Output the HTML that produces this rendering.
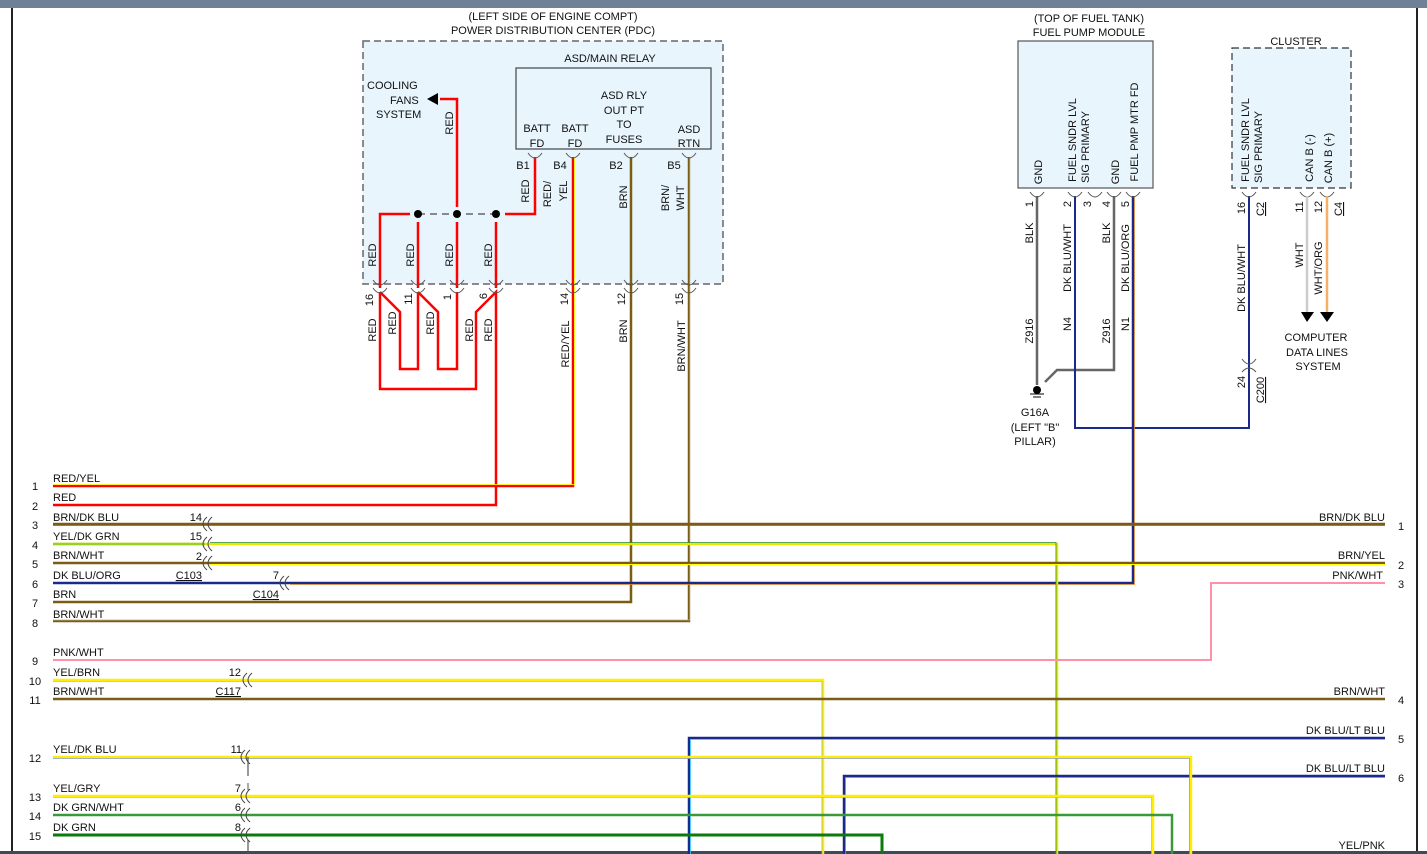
<!DOCTYPE html>
<html><head><meta charset="utf-8"><style>
html,body{margin:0;padding:0;background:#fff;width:1427px;height:854px;overflow:hidden}
svg{display:block}
text{font-family:"Liberation Sans",sans-serif;font-size:11px;fill:#111}
</style></head><body>
<svg width="1427" height="854" viewBox="0 0 1427 854">
<defs>
<g id="cb"><path d="M-7,-4 Q0,6 7,-4" fill="none" stroke="#555" stroke-width="1"/></g>
<g id="cl"><path d="M4,-7 Q-4,0 4,7 M9,-7 Q1,0 9,7" fill="none" stroke="#444" stroke-width="1"/></g>
</defs>
<rect x="0" y="0" width="1427" height="8" fill="#6f8195"/>
<line x1="12" y1="8" x2="12" y2="854" stroke="#222" stroke-width="2"/>
<line x1="1417" y1="8" x2="1417" y2="854" stroke="#222" stroke-width="2"/>
<rect x="0" y="851" width="1427" height="3" fill="#3d4a57"/>

<!-- PDC -->
<text x="553" y="20" text-anchor="middle">(LEFT SIDE OF ENGINE COMPT)</text>
<text x="553" y="34" text-anchor="middle">POWER DISTRIBUTION CENTER (PDC)</text>
<rect x="363" y="41" width="360" height="243" fill="#e8f5fd" stroke="#666" stroke-width="1.5" stroke-dasharray="7,4"/>
<text x="610" y="62" text-anchor="middle">ASD/MAIN RELAY</text>
<rect x="516" y="68" width="195" height="81" fill="#e8f5fd" stroke="#444" stroke-width="1.2"/>
<text x="624" y="99" text-anchor="middle">ASD RLY</text>
<text x="624" y="114" text-anchor="middle">OUT PT</text>
<text x="624" y="128" text-anchor="middle">TO</text>
<text x="624" y="143" text-anchor="middle">FUSES</text>
<text x="537" y="132" text-anchor="middle">BATT</text><text x="537" y="147" text-anchor="middle">FD</text>
<text x="575" y="132" text-anchor="middle">BATT</text><text x="575" y="147" text-anchor="middle">FD</text>
<text x="689" y="133" text-anchor="middle">ASD</text><text x="689" y="147" text-anchor="middle">RTN</text>
<text x="367" y="89">COOLING</text><text x="390" y="104">FANS</text><text x="376" y="118">SYSTEM</text>
<text x="523" y="169" text-anchor="middle">B1</text><text x="560" y="169" text-anchor="middle">B4</text>
<text x="616" y="169" text-anchor="middle">B2</text><text x="674" y="169" text-anchor="middle">B5</text>
<g fill="none" stroke-width="2.5">
<path d="M535,157 V214 H505" stroke="#f00"/>
<path d="M410,214 H380 V288" stroke="#f00"/>
<path d="M418,222 V288 M457,222 V288 M496,222 V288" stroke="#f00"/>
<path d="M457,207 V99 H440" stroke="#f00"/>
<path d="M380,292 L400,312 V369 H418 V292 M418,292 L438,312 V369 H457 V292 M380,292 V389 H476 V312 L496,292 V505 H53" stroke="#f00"/>
</g>
<line x1="418" y1="214" x2="496" y2="214" stroke="#666" stroke-width="1.5" stroke-dasharray="7,5"/>
<circle cx="418" cy="214" r="4" fill="#000"/><circle cx="457" cy="214" r="4" fill="#000"/><circle cx="496" cy="214" r="4" fill="#000"/>
<path d="M427,99 L438,93 V105 Z" fill="#000"/>
<!-- red/yel -->
<path d="M573,157 V486 H53" fill="none" stroke="#f00" stroke-width="2.5"/>
<path d="M574.5,157 V484.5 H53" fill="none" stroke="#ff0" stroke-width="0.8"/>
<path d="M631,157 V602 H53" fill="none" stroke="#7a5c12" stroke-width="2.5"/>
<path d="M689,157 V621 H53" fill="none" stroke="#7a5c12" stroke-width="2.5"/>
<path d="M690,157 V620 H53" fill="none" stroke="#ddd" stroke-width="0.6"/>
<g><use href="#cb" x="535" y="157"/><use href="#cb" x="573" y="157"/><use href="#cb" x="631" y="157"/><use href="#cb" x="689" y="157"/>
<use href="#cb" x="380" y="284"/><use href="#cb" x="418" y="284"/><use href="#cb" x="457" y="284"/><use href="#cb" x="496" y="284"/><use href="#cb" x="573" y="284"/><use href="#cb" x="631" y="284"/><use href="#cb" x="689" y="284"/>
<use href="#cb" x="380" y="292"/><use href="#cb" x="418" y="292"/><use href="#cb" x="457" y="292"/><use href="#cb" x="496" y="292"/><use href="#cb" x="573" y="292"/><use href="#cb" x="631" y="292"/><use href="#cb" x="689" y="292"/></g>
<g>
<text transform="translate(453,123) rotate(-90)" text-anchor="middle">RED</text>
<text transform="translate(529,191) rotate(-90)" text-anchor="middle">RED</text>
<text transform="translate(551,194) rotate(-90)" text-anchor="middle">RED/</text>
<text transform="translate(567,191) rotate(-90)" text-anchor="middle">YEL</text>
<text transform="translate(627,197) rotate(-90)" text-anchor="middle">BRN</text>
<text transform="translate(669,198) rotate(-90)" text-anchor="middle">BRN/</text>
<text transform="translate(684,198) rotate(-90)" text-anchor="middle">WHT</text>
<text transform="translate(376,255) rotate(-90)" text-anchor="middle">RED</text>
<text transform="translate(414,255) rotate(-90)" text-anchor="middle">RED</text>
<text transform="translate(453,255) rotate(-90)" text-anchor="middle">RED</text>
<text transform="translate(492,255) rotate(-90)" text-anchor="middle">RED</text>
<text transform="translate(373,300) rotate(-90)" text-anchor="middle">16</text>
<text transform="translate(412,299) rotate(-90)" text-anchor="middle">11</text>
<text transform="translate(451,297) rotate(-90)" text-anchor="middle">1</text>
<text transform="translate(487,296) rotate(-90)" text-anchor="middle">6</text>
<text transform="translate(568,299) rotate(-90)" text-anchor="middle">14</text>
<text transform="translate(625,299) rotate(-90)" text-anchor="middle">12</text>
<text transform="translate(683,299) rotate(-90)" text-anchor="middle">15</text>
<text transform="translate(376,330) rotate(-90)" text-anchor="middle">RED</text>
<text transform="translate(396,323) rotate(-90)" text-anchor="middle">RED</text>
<text transform="translate(434,323) rotate(-90)" text-anchor="middle">RED</text>
<text transform="translate(473,330) rotate(-90)" text-anchor="middle">RED</text>
<text transform="translate(492,330) rotate(-90)" text-anchor="middle">RED</text>
<text transform="translate(569,344) rotate(-90)" text-anchor="middle">RED/YEL</text>
<text transform="translate(627,331) rotate(-90)" text-anchor="middle">BRN</text>
<text transform="translate(685,346) rotate(-90)" text-anchor="middle">BRN/WHT</text>
</g>

<!-- Fuel pump module -->
<text x="1089" y="22" text-anchor="middle">(TOP OF FUEL TANK)</text>
<text x="1089" y="36" text-anchor="middle">FUEL PUMP MODULE</text>
<rect x="1018" y="41" width="135" height="147" fill="#e8f5fd" stroke="#555" stroke-width="1.2"/>
<text transform="translate(1042,172) rotate(-90)" text-anchor="middle">GND</text>
<text transform="translate(1076,140) rotate(-90)" text-anchor="middle">FUEL SNDR LVL</text>
<text transform="translate(1089,147) rotate(-90)" text-anchor="middle">SIG PRIMARY</text>
<text transform="translate(1119,172) rotate(-90)" text-anchor="middle">GND</text>
<text transform="translate(1138,132) rotate(-90)" text-anchor="middle">FUEL PMP MTR FD</text>
<path d="M1037,196 V385" stroke="#666" stroke-width="2.5" fill="none"/>
<path d="M1114,196 V370 H1057 L1045,382" stroke="#666" stroke-width="2.5" fill="none"/>
<circle cx="1037" cy="390" r="4" fill="#000"/>
<path d="M1030,394 H1044 M1033,397 H1041" stroke="#000" stroke-width="1"/>
<text x="1035" y="416" text-anchor="middle">G16A</text>
<text x="1035" y="431" text-anchor="middle">(LEFT "B"</text>
<text x="1035" y="445" text-anchor="middle">PILLAR)</text>
<path d="M1075,196 V428 H1249 V196" stroke="#1a2a8a" stroke-width="2" fill="none"/>
<path d="M1133,196 V583 H53" stroke="#1a2a8a" stroke-width="2.5" fill="none"/>
<path d="M1134.5,196 V584.5 H290" stroke="#e08a30" stroke-width="0.8" fill="none"/>
<g><use href="#cb" x="1037" y="196"/><use href="#cb" x="1075" y="196"/><use href="#cb" x="1095" y="196"/><use href="#cb" x="1114" y="196"/><use href="#cb" x="1133" y="196"/><use href="#cb" x="1249" y="196"/><use href="#cb" x="1307" y="196"/><use href="#cb" x="1327" y="196"/>
<use href="#cb" x="1249" y="363"/><path d="M1242,372 Q1249,364 1256,372" fill="none" stroke="#555"/></g>
<g>
<text transform="translate(1033,204) rotate(-90)" text-anchor="middle">1</text>
<text transform="translate(1071,204) rotate(-90)" text-anchor="middle">2</text>
<text transform="translate(1091,204) rotate(-90)" text-anchor="middle">3</text>
<text transform="translate(1110,204) rotate(-90)" text-anchor="middle">4</text>
<text transform="translate(1129,204) rotate(-90)" text-anchor="middle">5</text>
<text transform="translate(1033,233) rotate(-90)" text-anchor="middle">BLK</text>
<text transform="translate(1071,258) rotate(-90)" text-anchor="middle">DK BLU/WHT</text>
<text transform="translate(1110,233) rotate(-90)" text-anchor="middle">BLK</text>
<text transform="translate(1129,258) rotate(-90)" text-anchor="middle">DK BLU/ORG</text>
<text transform="translate(1033,331) rotate(-90)" text-anchor="middle">Z916</text>
<text transform="translate(1071,324) rotate(-90)" text-anchor="middle">N4</text>
<text transform="translate(1110,331) rotate(-90)" text-anchor="middle">Z916</text>
<text transform="translate(1129,324) rotate(-90)" text-anchor="middle">N1</text>
</g>

<!-- Cluster -->
<text x="1296" y="45" text-anchor="middle">CLUSTER</text>
<rect x="1232" y="48" width="119" height="140" fill="#e8f5fd" stroke="#333" stroke-width="1.2" stroke-dasharray="7,4"/>
<text transform="translate(1249,140) rotate(-90)" text-anchor="middle">FUEL SNDR LVL</text>
<text transform="translate(1262,147) rotate(-90)" text-anchor="middle">SIG PRIMARY</text>
<text transform="translate(1313,158) rotate(-90)" text-anchor="middle">CAN B (-)</text>
<text transform="translate(1332,158) rotate(-90)" text-anchor="middle">CAN B (+)</text>
<path d="M1307,196 V312" stroke="#ccc" stroke-width="2.5"/>
<path d="M1327,196 V312" stroke="#f5b066" stroke-width="2.5"/>
<path d="M1301,312 H1314 L1307,322 Z M1320,312 H1334 L1327,322 Z" fill="#000"/>
<text x="1316" y="341" text-anchor="middle">COMPUTER</text>
<text x="1317" y="356" text-anchor="middle">DATA LINES</text>
<text x="1318" y="370" text-anchor="middle">SYSTEM</text>
<g>
<text transform="translate(1245,208) rotate(-90)" text-anchor="middle">16</text>
<text transform="translate(1264,209) rotate(-90)" text-anchor="middle" text-decoration="underline">C2</text>
<text transform="translate(1303,207) rotate(-90)" text-anchor="middle">11</text>
<text transform="translate(1322,207) rotate(-90)" text-anchor="middle">12</text>
<text transform="translate(1342,209) rotate(-90)" text-anchor="middle" text-decoration="underline">C4</text>
<text transform="translate(1245,278) rotate(-90)" text-anchor="middle">DK BLU/WHT</text>
<text transform="translate(1303,255) rotate(-90)" text-anchor="middle">WHT</text>
<text transform="translate(1322,268) rotate(-90)" text-anchor="middle">WHT/ORG</text>
<text transform="translate(1245,382) rotate(-90)" text-anchor="middle">24</text>
<text transform="translate(1264,390) rotate(-90)" text-anchor="middle" text-decoration="underline">C200</text>
</g>

<!-- horizontal wires -->
<g fill="none">
<path d="M53,524 H1385" stroke="#7a5c12" stroke-width="2.5"/><path d="M53,525.5 H1385" stroke="#4060c0" stroke-width="0.7"/>
<path d="M53,544 H1057 V854" stroke="#e8e800" stroke-width="2.5"/><path d="M210,542.5 H1056 V854" stroke="#2a8a2a" stroke-width="0.8"/>
<path d="M53,544 H205" stroke="#9ad020" stroke-width="2.5"/>
<path d="M53,563 H1385" stroke="#7a5c12" stroke-width="2.5"/><path d="M210,564.5 H1385" stroke="#ff0" stroke-width="0.9"/>
<path d="M53,660 H1211 V583 H1385" stroke="#ff90a8" stroke-width="2"/>
<path d="M53,680 H823 V854" stroke="#ffee00" stroke-width="2.5"/><path d="M53,681.5 H822 V854" stroke="#999" stroke-width="0.6"/>
<path d="M53,699 H1385" stroke="#7a5c12" stroke-width="2.5"/>
<path d="M689,854 V738 H1385" stroke="#1a2a8a" stroke-width="2.5"/><path d="M690.5,854 V739.5 H1385" stroke="#30d0ff" stroke-width="0.8"/>
<path d="M844,854 V776 H1385" stroke="#1a2a8a" stroke-width="2.5"/><path d="M845.5,854 V777.5 H1385" stroke="#30a0ff" stroke-width="0.8"/>
<path d="M53,757 H1191 V854" stroke="#ffee00" stroke-width="2.5"/><path d="M53,758.5 H1189.5 V854" stroke="#8899bb" stroke-width="0.8"/>
<path d="M53,796 H1153 V854" stroke="#ffee00" stroke-width="2.5"/><path d="M53,797.5 H1151.5 V854" stroke="#bbb" stroke-width="0.8"/>
<path d="M53,815 H1172 V854" stroke="#3a9a3a" stroke-width="2.5"/>
<path d="M53,835 H882 V854" stroke="#0a7a0a" stroke-width="3"/>
<path d="M248,757 V776 M248,840 V854" stroke="#555" stroke-width="1.2"/>
</g>
<g><use href="#cl" x="203" y="524"/><use href="#cl" x="203" y="544"/><use href="#cl" x="203" y="563"/><use href="#cl" x="280" y="583"/><use href="#cl" x="243" y="680"/>
<use href="#cl" x="241" y="757"/><use href="#cl" x="241" y="796"/><use href="#cl" x="241" y="815"/><use href="#cl" x="241" y="835"/><path d="M248,783 V790" stroke="#555"/></g>
<g>
<text x="35" y="490" text-anchor="middle">1</text><text x="35" y="510" text-anchor="middle">2</text><text x="35" y="529" text-anchor="middle">3</text><text x="35" y="549" text-anchor="middle">4</text><text x="35" y="568" text-anchor="middle">5</text><text x="35" y="588" text-anchor="middle">6</text><text x="35" y="607" text-anchor="middle">7</text><text x="35" y="627" text-anchor="middle">8</text><text x="35" y="665" text-anchor="middle">9</text><text x="35" y="685" text-anchor="middle">10</text><text x="35" y="704" text-anchor="middle">11</text><text x="35" y="762" text-anchor="middle">12</text><text x="35" y="801" text-anchor="middle">13</text><text x="35" y="820" text-anchor="middle">14</text><text x="35" y="840" text-anchor="middle">15</text>
<text x="53" y="482">RED/YEL</text><text x="53" y="501">RED</text><text x="53" y="521">BRN/DK BLU</text><text x="53" y="540">YEL/DK GRN</text><text x="53" y="559">BRN/WHT</text><text x="53" y="579">DK BLU/ORG</text><text x="53" y="598">BRN</text><text x="53" y="618">BRN/WHT</text><text x="53" y="656">PNK/WHT</text><text x="53" y="676">YEL/BRN</text><text x="53" y="695">BRN/WHT</text><text x="53" y="753">YEL/DK BLU</text><text x="53" y="792">YEL/GRY</text><text x="53" y="811">DK GRN/WHT</text><text x="53" y="831">DK GRN</text>
<text x="202" y="521" text-anchor="end">14</text><text x="202" y="540" text-anchor="end">15</text><text x="202" y="560" text-anchor="end">2</text><text x="202" y="579" text-anchor="end" text-decoration="underline">C103</text>
<text x="279" y="579" text-anchor="end">7</text><text x="279" y="598" text-anchor="end" text-decoration="underline">C104</text>
<text x="241" y="676" text-anchor="end">12</text><text x="241" y="695" text-anchor="end" text-decoration="underline">C117</text>
<text x="242" y="753" text-anchor="end">11</text><text x="241" y="792" text-anchor="end">7</text><text x="241" y="811" text-anchor="end">6</text><text x="241" y="831" text-anchor="end">8</text>
<text x="1385" y="521" text-anchor="end">BRN/DK BLU</text><text x="1385" y="559" text-anchor="end">BRN/YEL</text><text x="1383" y="579" text-anchor="end">PNK/WHT</text><text x="1385" y="695" text-anchor="end">BRN/WHT</text><text x="1385" y="734" text-anchor="end">DK BLU/LT BLU</text><text x="1385" y="772" text-anchor="end">DK BLU/LT BLU</text><text x="1385" y="849" text-anchor="end">YEL/PNK</text>
<text x="1401" y="530" text-anchor="middle">1</text><text x="1401" y="569" text-anchor="middle">2</text><text x="1401" y="588" text-anchor="middle">3</text><text x="1401" y="704" text-anchor="middle">4</text><text x="1401" y="743" text-anchor="middle">5</text><text x="1401" y="782" text-anchor="middle">6</text>
</g>
</svg>
</body></html>
